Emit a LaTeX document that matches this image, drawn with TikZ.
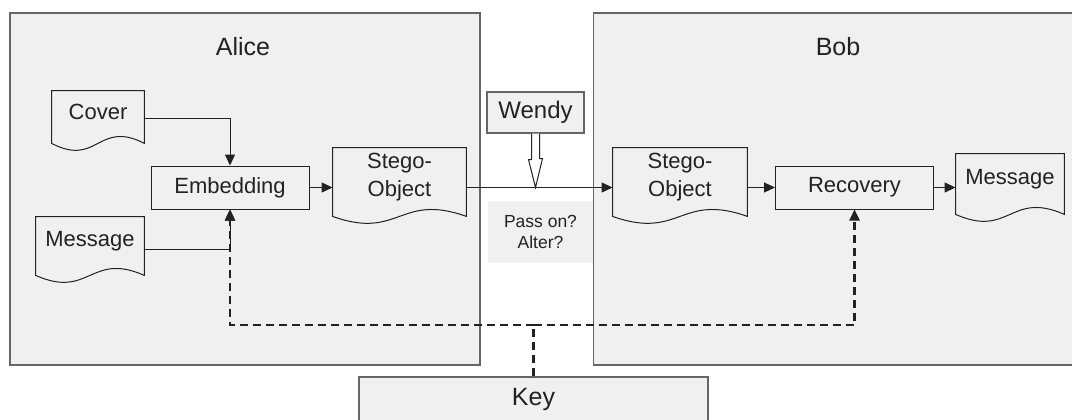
\documentclass[tikz,border=0pt]{standalone}
\usepackage{fontspec}
\setmainfont{Liberation Sans}
\usepackage{xcolor}
\usepackage{tikz}
\usetikzlibrary{arrows.meta, positioning, calc}

\definecolor{panel}{HTML}{F0F0F0}
\definecolor{rim}{HTML}{666666}
\definecolor{ink}{HTML}{222222}

% document symbol: straight top and sides, wavy bottom edge below the node
\newcommand{\docoutline}[1]{%
  \draw[docline] (#1.north west) -- ([yshift=-5pt]#1.south west)
    .. controls ([yshift=-17pt]#1.south) and ([yshift=7pt]#1.south) .. ([yshift=-5pt]#1.south east)
    -- (#1.north east) -- cycle;}

\begin{document}
\begin{tikzpicture}[x=0.5pt, y=-0.5pt,
    panel/.style={draw=rim, fill=panel, line width=0.6pt, text=ink},
    process/.style={draw=ink, line width=0.5pt, minimum width=79pt, minimum height=21.5pt, text=ink, font=\fontsize{11}{14}\selectfont},
    doc/.style={inner sep=0pt, align=center, text=ink, font=\fontsize{11}{14}\selectfont},
    docline/.style={draw=ink, line width=0.5pt},
    title/.style={text=ink, font=\fontsize{12.5}{15}\selectfont},
    arrow/.style={-{Triangle[length=5.5pt,width=5pt]}, draw=ink, line width=0.5pt},
    keyline/.style={draw=ink, line width=1.2pt, dash pattern=on 4pt off 2.5pt}
]
    \path[use as bounding box] (0,0) rectangle (1072,419);
    \clip (0,0) rectangle (1072,419);

    % Parties
    \node[panel, minimum width=235pt, minimum height=176pt] (alice) at (245,189) {};
    \node[panel, minimum width=250pt, minimum height=176pt, anchor=west] (bob) at (593,189) {};
    \node[title] (alicename) at (243,47) {Alice};
    \node[title] (bobname) at (838,47) {Bob};

    % Key and warden
    \node[panel, title, minimum width=174.5pt, minimum height=22pt] (key) at (533.5,399) {Key};
    \node[panel, minimum width=48.5pt, minimum height=20.5pt, font=\fontsize{12}{14}\selectfont] (wendy) at (535.5,112.5) {Wendy};
    \node[fill=panel, minimum width=52.5pt, minimum height=31pt, align=center, text=ink,
          font=\fontsize{8.75}{10.5}\selectfont] (judge) at (540.5,232) {Pass on?\\Alter?};

    % Sender side
    \node[doc, minimum width=46pt, minimum height=21pt] (cover) at (98,112) {Cover};
    \node[doc, minimum width=54pt, minimum height=24pt] (msga) at (90,241) {Message};
    \node[process] (embed) at (230,187.5) {Embedding};
    \node[doc, minimum width=66.5pt, minimum height=29pt] (stegoa) at (399.5,177) {Stego-\\Object};

    % Receiver side
    \node[doc, minimum width=67pt, minimum height=29pt] (stegob) at (680,177) {Stego-\\Object};
    \node[process] (recov) at (854.5,187.5) {Recovery};
    \node[doc, minimum width=54pt, minimum height=25pt] (msgb) at (1010,179) {Message};

    \docoutline{cover}
    \docoutline{msga}
    \docoutline{stegoa}
    \docoutline{stegob}
    \docoutline{msgb}

    % Key distribution
    \coordinate (fork) at (key.north |- 0,325);
    \draw[keyline] (key.north) -- (fork);
    \draw[arrow, keyline] (fork) -| (embed.south);
    \draw[arrow, keyline] (fork) -| (recov.south);

    % Data flow
    \draw[arrow] ([yshift=-3pt]cover.east) -| (embed.north);
    \draw[arrow] ([yshift=-4pt]msga.east) -| (embed.south);
    \draw[arrow] (embed.east) -- (embed.east -| stegoa.west);
    \draw[arrow] (stegob.east |- recov.west) -- (recov.west);
    \draw[arrow] (recov.east) -- (recov.east -| msgb.west);

    % Wendy watches the channel
    \coordinate (tap) at (wendy.south |- embed.east);
    \draw[ink, line width=0.5pt, fill=white] ([xshift=-2pt]wendy.south) -- ++(0,-13pt) -- ++(-1.5pt,0)
        -- (tap) -- ++(3.5pt,14.5pt) -- ++(-1.5pt,0) -- ([xshift=2pt]wendy.south);
    \draw[arrow] (stegoa.east |- embed.east) -- (stegob.west |- embed.east);
\end{tikzpicture}
\end{document}
